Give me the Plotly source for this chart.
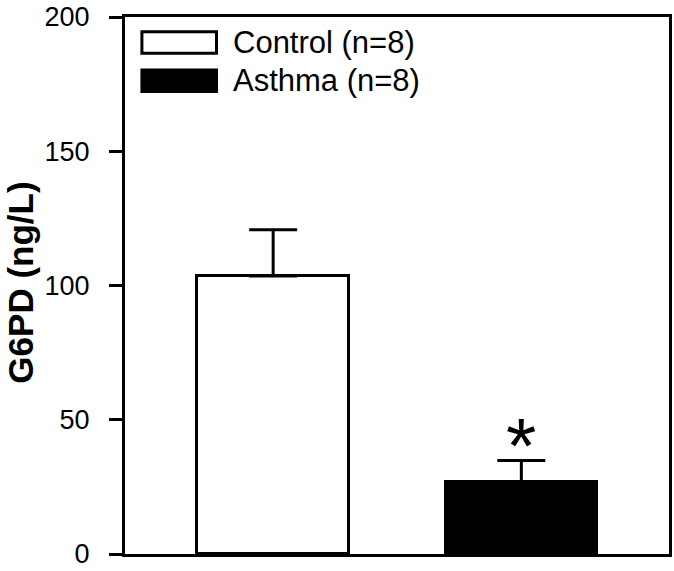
import plotly.graph_objects as go

groups = ["Control (n=8)", "Asthma (n=8)"]
means = [103.5, 26.8]
sem = [17.3, 8.0]
fills = ["white", "black"]
y_ticks = [0, 50, 100, 150, 200]
y_title = "G6PD (ng/L)"
sig_mark = ["", "*"]

W, H = 674, 571
L, R, T, B = 125, 2, 13, 11
pw, ph = W - L - R, H - T - B
FONT = "Liberation Sans, Arial, sans-serif"

def px_x(p):
    return (p - L) / pw

def px_y(p):
    return (H - B - p) / ph

fig = go.Figure()
fig.add_trace(go.Bar(
    x=groups, y=means, width=0.61,
    marker=dict(color=fills, line=dict(color="black", width=3)),
    error_y=dict(type="data", array=sem, arrayminus=[0, 0], symmetric=False,
                 color="black", thickness=3, width=24),
    showlegend=False,
))

# significance marker
for g, m, s, t in zip(groups, means, sem, sig_mark):
    if t:
        fig.add_annotation(x=g, y=m + s, text=t, showarrow=False,
                           yanchor="bottom", yshift=-31,
                           font=dict(family=FONT, size=78, color="black"))

# legend drawn as boxes + text
leg_rows = [39, 78]
for g, c, cy in zip(groups, fills, leg_rows):
    fig.add_shape(type="rect", xref="paper", yref="paper",
                  x0=px_x(142), x1=px_x(217), y0=px_y(cy + 11), y1=px_y(cy - 11),
                  fillcolor=c, line=dict(color="black", width=3))
    fig.add_annotation(xref="paper", yref="paper", x=px_x(232), y=px_y(cy),
                       text=g, showarrow=False, xanchor="left", yanchor="middle",
                       font=dict(family=FONT, size=31, color="black"))

fig.add_annotation(xref="paper", yref="paper", x=px_x(19), y=px_y(284),
                   text="<b>" + y_title + "</b>", textangle=-90, showarrow=False,
                   xanchor="center", yanchor="middle",
                   font=dict(family=FONT, size=35, color="black"))

fig.update_layout(
    width=W, height=H,
    margin=dict(l=L, r=R, t=T, b=B),
    plot_bgcolor="white", paper_bgcolor="white",
    bargap=0,
)
fig.update_xaxes(range=[-0.597, 1.595], showline=True, linecolor="black", linewidth=3,
                 mirror=True, showticklabels=False, ticks="", showgrid=False, zeroline=False)
fig.update_yaxes(range=[0, 200], tickvals=y_ticks, showline=True, linecolor="black",
                 linewidth=3, mirror=True, ticks="outside", ticklen=13, tickwidth=3,
                 tickcolor="black", ticklabelstandoff=14, ticklabeloverflow="allow",
                 showgrid=False, zeroline=False,
                 tickfont=dict(family=FONT, size=27, color="black"))

fig.write_html("out.html", config={"displayModeBar": False},
               post_script="document.body.style.margin='0';document.body.style.overflow='hidden';")
